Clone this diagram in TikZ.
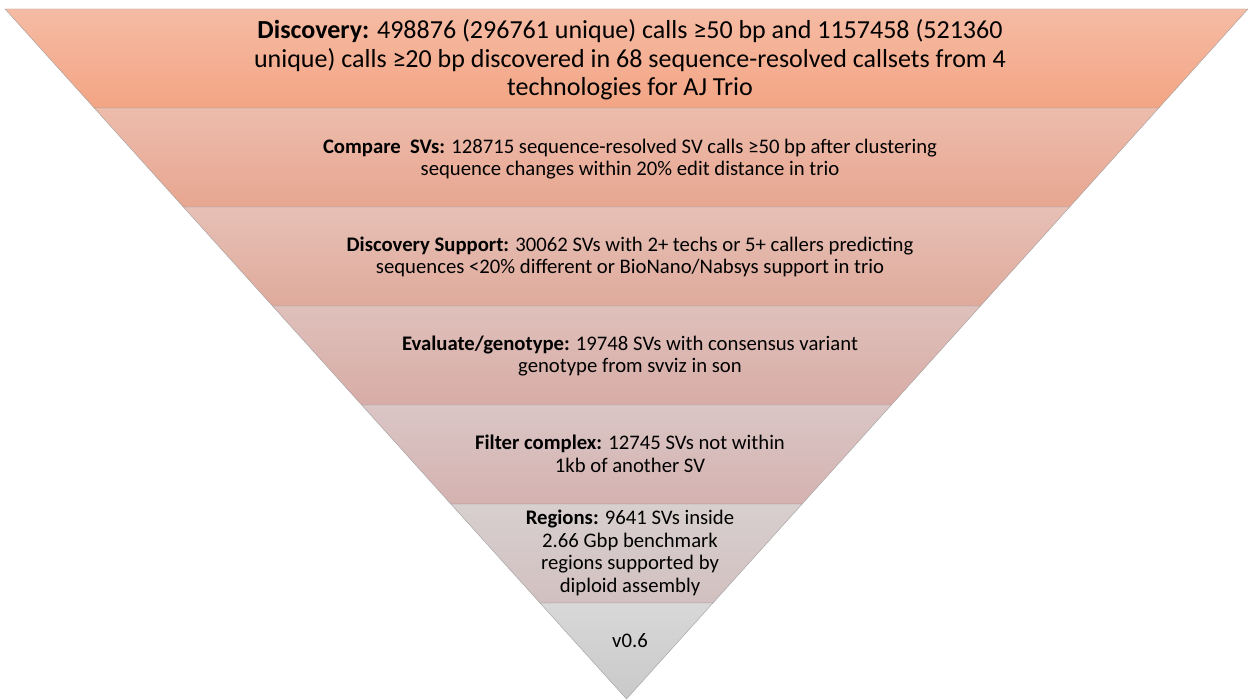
\documentclass[tikz,border=0pt]{standalone}
\usepackage{fontspec}
\setmainfont{Carlito}
\usepackage{tikz}
\usetikzlibrary{calc}

% band colours, top and bottom of each band
\definecolor{b1t}{HTML}{F5BBA4}
\definecolor{b1b}{HTML}{F3A584}
\definecolor{b2t}{HTML}{EDBCAC}
\definecolor{b2b}{HTML}{E7A690}
\definecolor{b3t}{HTML}{E7C0B6}
\definecolor{b3b}{HTML}{DFAA9B}
\definecolor{b4t}{HTML}{DFC0BB}
\definecolor{b4b}{HTML}{D8ACA6}
\definecolor{b5t}{HTML}{DAC6C5}
\definecolor{b5b}{HTML}{D4B2B0}
\definecolor{b6t}{HTML}{D8CFCF}
\definecolor{b6b}{HTML}{D2C0C0}
\definecolor{b7t}{HTML}{D8D8D8}
\definecolor{b7b}{HTML}{C9C9C9}

\begin{document}
\begin{tikzpicture}[x=1pt,y=-1pt,
    lbl/.style={align=center, inner sep=0pt, text=black},
    bigtxt/.style={font=\fontsize{26}{28.5}\selectfont},
    midtxt/.style={font=\fontsize{20.7}{22}\selectfont},
    smtxt/.style={font=\fontsize{20.7}{22.5}\selectfont}]
    \useasboundingbox (0,0) rectangle (1248,700);

    % Funnel bands (half width shrinks to 0 at the apex)
    \foreach \ya/\yb/\ct/\cb in {9/108/b1t/b1b, 108/207/b2t/b2b, 207/306/b3t/b3b,
                                 306/405/b4t/b4b, 405/504/b5t/b5b, 504/603/b6t/b6b,
                                 603/699/b7t/b7b} {
        \pgfmathsetmacro\wa{0.9007*(699-\ya)}
        \pgfmathsetmacro\wb{0.9007*(699-\yb)}
        \shade[top color=\ct, bottom color=\cb, draw=gray!75, line width=0.4pt]
            (626.5-\wa,\ya) -- (626.5+\wa,\ya) -- (626.5+\wb,\yb) -- (626.5-\wb,\yb) -- cycle;
    }

    % Band labels
    \node[lbl, bigtxt] (disc) at (630,60) {\textbf{Discovery:} 498876 (296761 unique) calls ≥50 bp and 1157458 (521360\\unique) calls ≥20 bp discovered in 68 sequence-resolved callsets from 4\\technologies for AJ Trio};
    \node[lbl, midtxt] (cmp) at (630,159) {\textbf{Compare\ \ SVs:} 128715 sequence-resolved SV calls ≥50 bp after clustering\\sequence changes within 20\% edit distance in trio};
    \node[lbl, midtxt] (supp) at (630,257) {\textbf{Discovery Support:} 30062 SVs with 2+ techs or 5+ callers predicting\\sequences <20\% different or BioNano/Nabsys support in trio};
    \node[lbl, smtxt] (eval) at (630,356) {\textbf{Evaluate/genotype:} 19748 SVs with consensus variant\\genotype from svviz in son};
    \node[lbl, smtxt] (filt) at (630,454) {\textbf{Filter complex:} 12745 SVs not within\\1kb of another SV};
    \node[lbl, smtxt] (reg) at (630,553) {\textbf{Regions:} 9641 SVs inside\\2.66 Gbp benchmark\\regions supported by\\diploid assembly};
    \node[lbl, smtxt] (ver) at (630,641) {v0.6};
\end{tikzpicture}
\end{document}
